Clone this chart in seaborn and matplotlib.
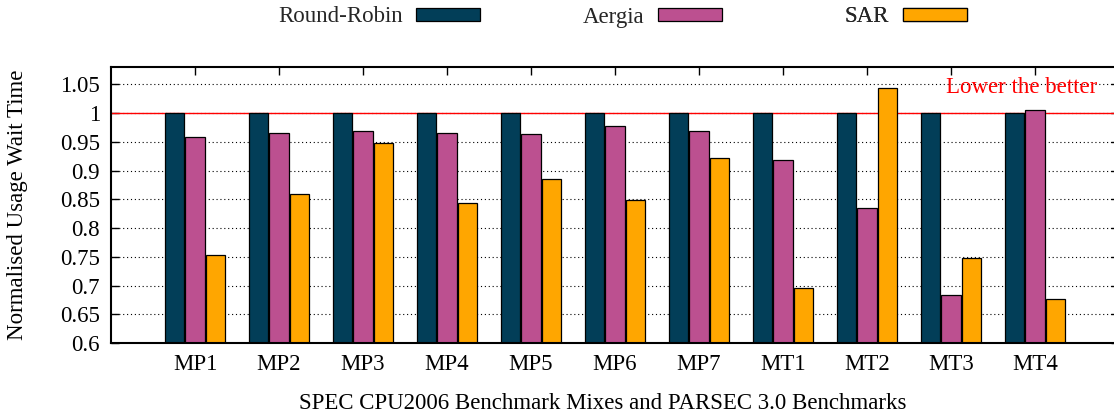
import numpy as np
import pandas as pd
import matplotlib
matplotlib.use("Agg")
import matplotlib.pyplot as plt
import seaborn as sns
from matplotlib.patches import Patch

categories = ["MP1", "MP2", "MP3", "MP4", "MP5", "MP6", "MP7", "MT1", "MT2", "MT3", "MT4"]
series_names = ["Round-Robin", "Aergia", "SAR"]
round_robin = [1.0, 1.0, 1.0, 1.0, 1.0, 1.0, 1.0, 1.0, 1.0, 1.0, 1.0]
aergia = [0.959, 0.966, 0.969, 0.965, 0.963, 0.977, 0.968, 0.919, 0.835, 0.684, 1.006]
sar = [0.753, 0.860, 0.948, 0.844, 0.885, 0.849, 0.922, 0.695, 1.044, 0.748, 0.677]
colors = ["#023e58", "#bc5090", "#ffa600"]
yticks = [0.6, 0.65, 0.7, 0.75, 0.8, 0.85, 0.9, 0.95, 1.0, 1.05]
ytick_labels = ["0.6", "0.65", "0.7", "0.75", "0.8", "0.85", "0.9", "0.95", "1", "1.05"]

df = pd.DataFrame({
    "Benchmark": categories * 3,
    "Scheme": [series_names[0]] * 11 + [series_names[1]] * 11 + [series_names[2]] * 11,
    "Value": round_robin + aergia + sar,
})

sns.set_theme(style="white")
plt.rcParams["font.family"] = ["Liberation Serif", "DejaVu Serif"]
FS = 16.5

W, H = 1114, 415
fig = plt.figure(figsize=(W / 100, H / 100), dpi=100)
ax_left, ax_right, ax_top, ax_bot = 111, 1119, 67, 343
ax = fig.add_axes([ax_left / W, 1 - ax_bot / H, (ax_right - ax_left) / W, (ax_bot - ax_top) / H])

sns.barplot(data=df, x="Benchmark", y="Value", hue="Scheme", order=categories,
            hue_order=series_names, palette=colors, saturation=1, width=0.73, gap=0.05,
            edgecolor="black", linewidth=0.9, ax=ax, legend=False, zorder=2)

ax.set_ylim(0.6, 1.08)
ax.set_xlim(-1, 11)
ax.set_yticks(yticks)
ax.set_yticklabels(ytick_labels)
ax.set_axisbelow(True)
ax.yaxis.grid(True, linestyle=(0, (1, 2.5)), color="black", linewidth=0.8)
ax.xaxis.grid(False)

ax.axhline(1.0, color="red", linewidth=1.0, zorder=1.5)
ax.text(10.74, 1.035, "Lower the better", color="red", ha="right", va="baseline", fontsize=FS)

for s in ax.spines.values():
    s.set_visible(True)
    s.set_color("black")
    s.set_linewidth(1.5)

ax.tick_params(axis="both", direction="in", length=6, width=1.0, color="black",
               labelsize=FS, labelcolor="black")
ax.tick_params(axis="x", top=True, bottom=True, pad=8)
ax.tick_params(axis="y", left=True, right=True, pad=8)

ax.set_xlabel("SPEC CPU2006 Benchmark Mixes and PARSEC 3.0 Benchmarks", fontsize=FS, color="black")
ax.set_ylabel("Normalised Usage Wait Time", fontsize=FS, color="black")
ax.xaxis.set_label_coords((603 - ax_left) / (ax_right - ax_left), -(409 - ax_bot) / (ax_bot - ax_top))
ax.xaxis.label.set_va("baseline")
ax.yaxis.set_label_coords(-(111 - 18) / (ax_right - ax_left), 0.5)
ax.yaxis.label.set_va("center")

# gnuplot-style legend: three entries at fixed column positions (text start x in px)
legend_x = [278, 583, 845]
for name, c, lx in zip(series_names, colors, legend_x):
    h = Patch(facecolor=c, edgecolor="black", linewidth=0.9)
    leg = ax.legend([h], [name], loc="center left",
                    bbox_to_anchor=(lx / W, 1 - 17 / H), bbox_transform=fig.transFigure,
                    frameon=False, fontsize=FS, markerfirst=False, borderpad=0, borderaxespad=0,
                    handlelength=2.77, handleheight=0.5, handletextpad=0.6)
    ax.add_artist(leg)

fig.savefig("out.png", dpi=100)
